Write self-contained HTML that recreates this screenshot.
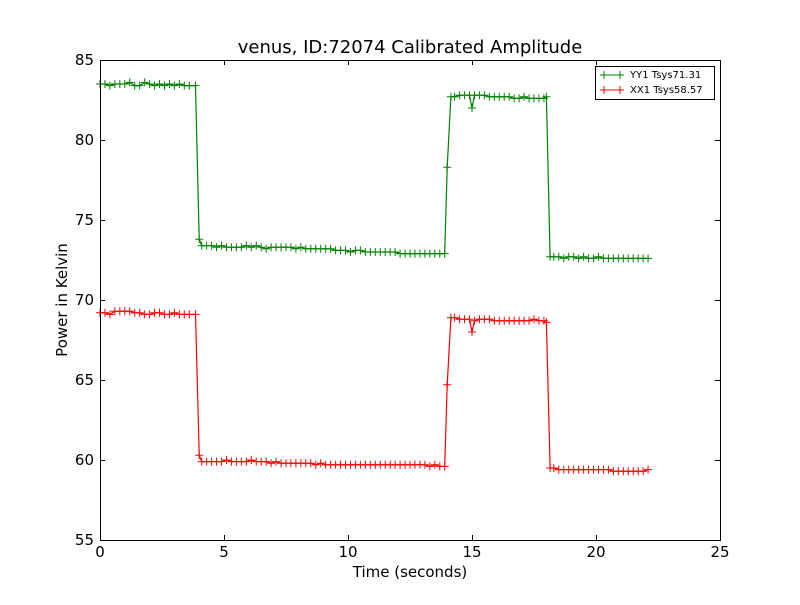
<!DOCTYPE html>
<html><head><meta charset="utf-8"><style>
body{margin:0;background:#fff;}
svg text{font-family:"DejaVu Sans","Liberation Sans",sans-serif;}
</style></head><body>
<svg id="chart" width="800" height="600" xmlns="http://www.w3.org/2000/svg">
<rect width="800" height="600" fill="#fff"/>
<text x="410" y="53" font-size="18" text-anchor="middle">venus, ID:72074 Calibrated Amplitude</text>
<g id="plot"></g>
<g id="axes"></g>
<text x="410" y="577" font-size="15" text-anchor="middle">Time (seconds)</text>
<text x="67" y="300" font-size="15" text-anchor="middle" transform="rotate(-90 67 300)">Power in Kelvin</text>
<g>
<rect x="595.5" y="66.5" width="119" height="33" fill="#fff" stroke="#000"/>
<g>
<line x1="600" y1="75" x2="624" y2="75" stroke="#008000"/><line x1="604" y1="71" x2="604" y2="79" stroke="#008000"/><line x1="620" y1="71" x2="620" y2="79" stroke="#008000"/>
<text x="630" y="78" font-size="10">YY1 Tsys71.31</text></g>
<g>
<line x1="600" y1="90" x2="624" y2="90" stroke="#ff0000"/><line x1="604" y1="86" x2="604" y2="94" stroke="#ff0000"/><line x1="620" y1="86" x2="620" y2="94" stroke="#ff0000"/>
<text x="630" y="93" font-size="10">XX1 Tsys58.57</text></g>
</g>
</svg>
<script>
const times=[0,0.2,0.4,0.6,0.8,1.0,1.2,1.4,1.6,1.8,2.0,2.2,2.4,2.6,2.8,3.0,3.2,3.4,3.6,3.85,
4.0,4.1,
4.3,4.5,4.7,4.9,5.1,5.3,5.5,5.7,5.9,6.1,6.3,6.5,6.7,6.9,7.1,7.3,7.5,7.7,7.9,8.1,8.3,8.5,8.7,8.9,9.1,9.3,9.5,9.7,9.9,10.1,10.3,10.5,10.7,10.9,11.1,11.3,11.5,11.7,11.9,12.1,12.3,12.5,12.7,12.9,13.1,13.3,13.5,13.7,13.9,
14.0,14.15,
14.3,14.5,14.7,14.9,15.0,15.1,15.3,15.5,15.7,15.9,16.1,16.3,16.5,16.7,16.9,17.1,17.3,17.5,17.7,17.9,18.0,
18.15,
18.3,18.5,18.7,18.9,19.1,19.3,19.5,19.7,19.9,20.1,20.3,20.5,20.7,20.9,21.1,21.3,21.5,21.7,21.9,22.1];
const yy1=[83.5,83.5,83.4,83.5,83.5,83.5,83.6,83.4,83.4,83.6,83.5,83.4,83.5,83.4,83.5,83.4,83.5,83.4,83.4,83.4,
73.8,73.4,
73.4,73.4,73.3,73.4,73.3,73.3,73.3,73.3,73.4,73.3,73.4,73.3,73.2,73.3,73.3,73.3,73.3,73.3,73.2,73.3,73.2,73.2,73.2,73.2,73.2,73.2,73.1,73.1,73.1,73.0,73.1,73.1,73.0,73.0,73.0,73.0,73.0,73.0,73.0,72.9,72.9,72.9,72.9,72.9,72.9,72.9,72.9,72.9,72.9,
78.3,82.7,
82.7,82.8,82.8,82.8,82.0,82.8,82.8,82.8,82.7,82.7,82.7,82.7,82.7,82.6,82.6,82.7,82.6,82.6,82.6,82.6,82.7,
72.7,
72.7,72.7,72.6,72.7,72.7,72.6,72.7,72.6,72.6,72.7,72.6,72.6,72.6,72.6,72.6,72.6,72.6,72.6,72.6,72.6];
const xx1=[69.2,69.2,69.1,69.3,69.3,69.3,69.3,69.2,69.2,69.1,69.1,69.2,69.2,69.1,69.1,69.2,69.1,69.1,69.1,69.1,
60.3,59.9,
59.9,59.9,59.9,59.9,60.0,59.9,59.9,59.9,59.9,60.0,59.9,59.9,59.9,59.8,59.9,59.8,59.8,59.8,59.8,59.8,59.8,59.8,59.7,59.8,59.7,59.7,59.7,59.7,59.7,59.7,59.7,59.7,59.7,59.7,59.7,59.7,59.7,59.7,59.7,59.7,59.7,59.7,59.7,59.7,59.7,59.6,59.7,59.6,59.6,
64.7,68.9,
68.9,68.8,68.8,68.8,68.0,68.7,68.8,68.8,68.8,68.7,68.7,68.7,68.7,68.7,68.7,68.7,68.7,68.8,68.7,68.7,68.6,
59.5,
59.5,59.4,59.4,59.4,59.4,59.4,59.4,59.4,59.4,59.4,59.4,59.4,59.3,59.3,59.3,59.3,59.3,59.3,59.3,59.4];
const xTicks=[0,5,10,15,20,25];
const yTicks=[55,60,65,70,75,80,85];
const X0=100,X1=720,Y0=540,Y1=60;
const xs=v=>X0+(v-0)/(25-0)*(X1-X0);
const ys=v=>Y0-(v-55)/(85-55)*(Y0-Y1);
const NS="http://www.w3.org/2000/svg";
const plot=document.getElementById('plot');
const axes=document.getElementById('axes');
function mk(tag,attrs,parent){const e=document.createElementNS(NS,tag);for(const k in attrs)e.setAttribute(k,attrs[k]);parent.appendChild(e);return e;}
function series(vals,color,name){
  const g=mk('g',{},plot);
  
  
  const pts=vals.map((v,i)=>xs(times[i]).toFixed(1)+','+ys(v).toFixed(1)).join(' ');
  const pl=mk('polyline',{points:pts,fill:'none',stroke:color,'stroke-width':1.2},g);
  
  
  vals.forEach((v,i)=>{
    const x=xs(times[i]),y=ys(v);
    const p=mk('path',{d:`M${x-4},${y}H${x+4}M${x},${y-4}V${y+4}`,stroke:color,'stroke-width':1},g);
    
    
  });
}
series(yy1,'#008000','series-yy1');
series(xx1,'#ff0000','series-xx1');
const frame=mk('rect',{x:X0+0.5,y:Y1+0.5,width:X1-X0,height:Y0-Y1,fill:'none',stroke:'#000'},axes);


xTicks.forEach(t=>{
  const x=Math.round(xs(t))+0.5;
  const tk=mk('path',{d:`M${x},${Y0}V${Y0-5}M${x},${Y1}V${Y1+5}`,stroke:'#000'},axes);
  
  
  const tx=mk('text',{x:xs(t),y:Y0+17,'font-size':15,'text-anchor':'middle'},axes);
  tx.textContent=t;
  
  
});
yTicks.forEach(t=>{
  const y=Math.round(ys(t))+0.5;
  const tk=mk('path',{d:`M${X0},${y}H${X0+5}M${X1},${y}H${X1-5}`,stroke:'#000'},axes);
  
  
  const tx=mk('text',{x:X0-6,y:ys(t)+5,'font-size':15,'text-anchor':'end'},axes);
  tx.textContent=t;
  
  
});
</script>
</body></html>
